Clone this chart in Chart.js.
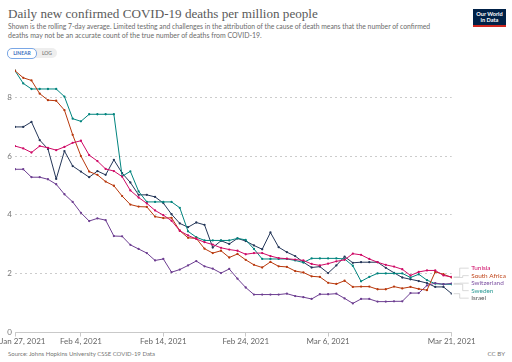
<!DOCTYPE html>
<html><head><meta charset="utf-8">
<script src="https://cdn.jsdelivr.net/npm/chart.js@4.4.1/dist/chart.umd.min.js"></script>
<style>
html,body{margin:0;padding:0;background:#fff;width:512px;height:362px;overflow:hidden;font-family:Lato,sans-serif;}
.abs{position:absolute;white-space:nowrap;}
#title{left:8px;top:5px;font-family:"Liberation Serif",serif;font-size:14px;color:#5a5a5a;line-height:17px;}
#sub1{left:8px;top:22px;font-size:6.6px;color:#6b6b6b;line-height:9px;}
#sub2{left:8px;top:31px;font-size:6.6px;color:#6b6b6b;line-height:9px;}
#logo{left:473px;top:9px;width:33px;background:#002147;border-bottom:2px solid #ce261e;color:#fff;font-size:5.6px;font-weight:bold;line-height:6px;text-align:center;padding-top:2px;box-sizing:content-box;height:14px;}
#toggle{left:7px;top:48px;height:10px;width:50px;border-radius:5px;background:#eee;}
#lin{position:absolute;left:0;top:0;width:28px;height:9px;border:1px solid #7aa7e6;border-radius:5px;background:#fff;color:#3a6fc0;font-size:5px;font-weight:bold;line-height:9px;text-align:center;}
#log{position:absolute;left:31px;top:0;width:18px;height:10px;color:#666;font-size:5px;line-height:10px;text-align:center;}
#src{left:8px;top:350px;font-size:6.2px;color:#777;line-height:8px;}
#cc{right:7px;top:350px;font-size:6.2px;color:#777;line-height:8px;}
#wrap{position:absolute;left:0;top:60px;width:512px;height:290px;}
</style></head>
<body>
<div id="title" class="abs">Daily new confirmed COVID-19 deaths per million people</div>
<div id="sub1" class="abs">Shown is the rolling 7-day average. Limited testing and challenges in the attribution of the cause of death means that the number of confirmed</div>
<div id="sub2" class="abs">deaths may not be an accurate count of the true number of deaths from COVID-19.</div>
<div id="logo" class="abs">Our World<br>in Data</div>
<div id="toggle" class="abs"><div id="lin">LINEAR</div><div id="log">LOG</div></div>
<div id="wrap"><canvas id="c" width="512" height="290"></canvas></div>
<div id="src" class="abs">Source: Johns Hopkins University CSSE COVID-19 Data</div>
<div id="cc" class="abs">CC BY</div>
<script>
// ---- data (day index 0 = Jan 27, 2021 ... 53 = Mar 21, 2021) ----
const countries = ["Tunisia", "South Africa", "Switzerland", "Sweden", "Israel"];
const tunisia = [6.34,6.26,6.12,6.34,6.28,6.20,6.31,6.45,6.52,6.03,5.83,5.56,5.49,5.30,4.83,4.59,4.39,4.15,3.99,3.80,3.46,3.30,3.18,3.07,2.99,2.88,2.82,2.78,2.66,2.70,2.70,2.60,2.53,2.51,2.48,2.45,2.33,2.28,2.34,2.42,2.47,2.68,2.64,2.50,2.39,2.30,2.24,2.15,1.94,2.06,2.11,2.11,1.94,1.89];
const southAfrica = [8.90,8.66,8.57,8.12,7.90,7.88,7.56,6.72,6.00,5.47,5.36,5.13,4.99,4.64,4.35,4.28,4.27,3.94,3.89,3.90,3.46,3.22,3.20,2.85,2.70,2.78,2.55,2.67,2.47,2.30,2.21,2.40,2.25,2.23,2.09,2.04,1.91,1.89,1.69,1.65,1.76,1.55,1.56,1.56,1.47,1.47,1.56,1.50,1.55,1.48,1.44,2.06,1.98,1.87];
const switzerland = [5.55,5.55,5.28,5.28,5.21,5.04,4.70,4.44,4.07,3.79,3.88,3.82,3.28,3.27,2.98,2.84,2.70,2.45,2.50,2.05,2.14,2.28,2.43,2.25,2.17,2.02,2.16,1.83,1.53,1.29,1.29,1.29,1.29,1.32,1.24,1.20,1.14,1.30,1.30,1.32,1.16,0.99,1.14,1.14,1.05,1.05,1.06,1.06,1.34,1.34,1.60,1.68,1.64,1.67];
const sweden = [8.90,8.47,8.28,8.28,8.28,8.28,8.02,7.27,7.18,7.42,7.42,7.42,7.42,5.31,5.48,4.80,4.44,4.44,4.44,4.44,4.24,3.44,3.24,3.13,3.13,3.13,3.13,3.20,3.15,2.84,2.50,2.50,2.50,2.50,2.45,2.38,2.52,2.52,2.52,2.52,2.50,2.27,1.74,1.89,2.01,2.01,2.01,2.01,1.87,1.98,1.78,1.66,1.64,1.64];
const israel = [6.99,6.99,7.16,6.54,6.24,5.22,6.17,5.66,5.47,5.28,5.49,5.36,5.87,5.42,5.10,4.68,4.68,4.61,4.40,4.02,3.71,3.58,3.74,3.66,2.89,3.12,3.01,3.20,3.11,2.96,2.83,3.40,2.90,2.73,2.60,2.39,2.21,2.24,2.02,2.28,2.58,2.37,2.39,2.39,2.39,2.20,2.03,1.87,1.81,1.75,1.68,1.55,1.55,1.32];
const tickDays = [0, 8, 18, 28, 38, 53];
const tickLabels = ["Jan 27, 2021", "Feb 4, 2021", "Feb 14, 2021", "Feb 24, 2021", "Mar 6, 2021", "Mar 21, 2021"];
const yTicks = [0, 2, 4, 6, 8];

// ---- styles ----
const seriesValues = [tunisia, southAfrica, switzerland, sweden, israel];
const colors = ["#CF0A66", "#B8380C", "#6D3E91", "#00847E", "#253759"];
const labelColors = ["#CF0A66", "#C0451A", "#7B4FA0", "#2A9A94", "#555555"];

function fitWidth(id, target){
  const el = document.getElementById(id);
  const fs = parseFloat(getComputedStyle(el).fontSize);
  const w = el.getBoundingClientRect().width;
  if (w > 0) el.style.fontSize = (fs * target / w) + 'px';
}
fitWidth('title', 310);
fitWidth('sub1', 423);
fitWidth('sub2', 254);
fitWidth('src', 147);

const overlay = {
  id: 'overlay',
  afterDraw(chart){
    const {ctx, chartArea} = chart;
    const xs = chart.scales.x, ys = chart.scales.y;
    ctx.save();
    ctx.font = '8px Lato';
    ctx.fillStyle = '#666';
    ctx.textBaseline = 'middle';
    ctx.textAlign = 'left';
    tickDays.forEach((d, k) => {
      const px = xs.getPixelForValue(d);
      const t = tickLabels[k];
      const w = ctx.measureText(t).width;
      let left = px - w / 2;
      if (left < 0) left = 0;
      ctx.fillText(t, left, chartArea.bottom + 8.5);
    });
    // end labels
    const items = chart.data.datasets.map((ds, i) => {
      const last = ds.data[ds.data.length - 1];
      return {i, label: ds.label, yEnd: ys.getPixelForValue(last.y), xEnd: xs.getPixelForValue(last.x)};
    });
    items.sort((a, b) => a.yEnd - b.yEnd);
    const sp = 7.5;
    const mean = items.reduce((s, it) => s + it.yEnd, 0) / items.length;
    const start = mean - sp * (items.length - 1) / 2;
    ctx.font = '6.4px Lato';
    items.forEach((it, k) => {
      const yl = start + k * sp;
      const xm = it.xEnd + 8 + (k % 2) * 3;
      ctx.strokeStyle = '#c8c8c8';
      ctx.lineWidth = 0.7;
      ctx.beginPath();
      ctx.moveTo(it.xEnd + 2, it.yEnd);
      ctx.lineTo(xm, it.yEnd);
      ctx.lineTo(xm, yl);
      ctx.lineTo(it.xEnd + 17, yl);
      ctx.stroke();
      ctx.fillStyle = labelColors[it.i];
      ctx.fillText(it.label, it.xEnd + 19.5, yl);
    });
    ctx.restore();
  }
};

const datasets = countries.map((name, i) => ({
  label: name,
  data: seriesValues[i].map((v, d) => ({x: d, y: v})),
  borderColor: colors[i],
  backgroundColor: colors[i],
  borderWidth: 1.0,
  pointRadius: 1.15,
  pointBorderWidth: 0,
  pointBackgroundColor: colors[i],
  tension: 0,
  fill: false
}));

new Chart(document.getElementById('c'), {
  type: 'line',
  data: {datasets},
  options: {
    responsive: false,
    animation: false,
    devicePixelRatio: 1,
    layout: {padding: {left: 6, right: 60.3, top: 5, bottom: 13.5}},
    plugins: {legend: {display: false}, tooltip: {enabled: false}, title: {display: false}},
    scales: {
      x: {
        type: 'linear', min: 0, max: 53,
        afterBuildTicks: s => { s.ticks = tickDays.map(v => ({value: v})); },
        ticks: {display: false},
        grid: {drawOnChartArea: false, drawTicks: true, tickLength: 4, color: '#bbb', lineWidth: 0.8},
        border: {display: true, color: '#bbb', width: 0.8}
      },
      y: {
        type: 'linear', min: 0, max: 9,
        afterBuildTicks: s => { s.ticks = yTicks.map(v => ({value: v})); },
        afterFit: s => { s.width = 9; },
        ticks: {color: '#777', font: {family: 'Lato', size: 8}, padding: 3},
        grid: {drawTicks: false, color: ctx => ctx.tick && ctx.tick.value === 0 ? 'rgba(0,0,0,0)' : '#cccccc', lineWidth: 1},
        border: {display: false, dash: [2, 3]}
      }
    }
  },
  plugins: [overlay]
});
</script>
</body></html>
